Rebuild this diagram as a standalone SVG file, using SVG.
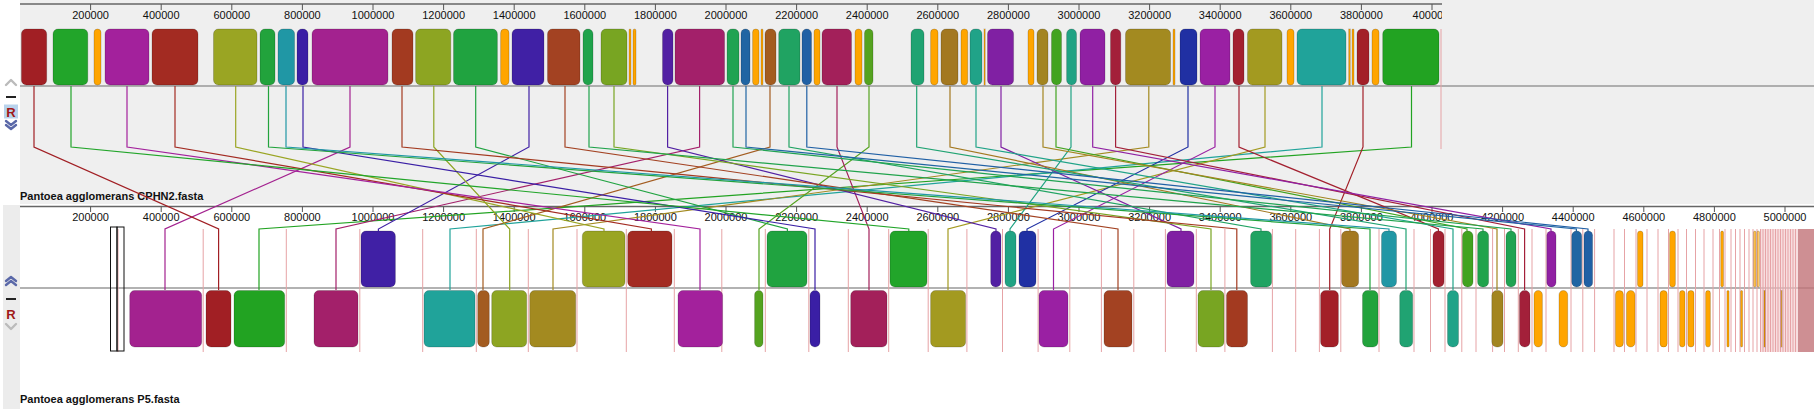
<svg xmlns="http://www.w3.org/2000/svg" width="1814" height="409" viewBox="0 0 1814 409">
<style>
.t{font-family:"Liberation Sans",Arial,sans-serif;font-size:11px;fill:#111;text-anchor:middle}
.lbl{font-family:"Liberation Sans",Arial,sans-serif;font-size:11px;font-weight:bold;fill:#111}
.rl{stroke:#666;stroke-width:1.6}
.tk{stroke:#555;stroke-width:1}
.cl{stroke:#999;stroke-width:1.5}
.b rect{stroke:#000;stroke-opacity:.18;stroke-width:1}
.o{fill:#ffa500}
.rd line{stroke:#e6a3a6;stroke-width:1}
.cn path{fill:none;stroke-width:1.2}
.chv{fill:none;stroke-width:2.4;stroke-linecap:round;stroke-linejoin:round}
.R{font-family:"Liberation Sans",Arial,sans-serif;font-size:13px;font-weight:bold;fill:#a01818;text-anchor:middle}
</style>
<defs>
<clipPath id="topclip"><rect x="0" y="0" width="1442" height="30"/></clipPath>
</defs>
<rect x="0" y="0" width="1814" height="409" fill="#ffffff"/>
<g id="top-panel">
<rect x="20" y="0" width="1794" height="204" fill="#efefef"/>
<line class="rl" x1="20" y1="4" x2="1442" y2="4"/>
<g clip-path="url(#topclip)">
<g class="tk">
<line x1="90.6" y1="4" x2="90.6" y2="10"/><line x1="161.2" y1="4" x2="161.2" y2="10"/><line x1="231.8" y1="4" x2="231.8" y2="10"/><line x1="302.4" y1="4" x2="302.4" y2="10"/><line x1="373" y1="4" x2="373" y2="10"/><line x1="443.6" y1="4" x2="443.6" y2="10"/><line x1="514.2" y1="4" x2="514.2" y2="10"/><line x1="584.8" y1="4" x2="584.8" y2="10"/><line x1="655.4" y1="4" x2="655.4" y2="10"/><line x1="726" y1="4" x2="726" y2="10"/><line x1="796.6" y1="4" x2="796.6" y2="10"/><line x1="867.2" y1="4" x2="867.2" y2="10"/><line x1="937.8" y1="4" x2="937.8" y2="10"/><line x1="1008.4" y1="4" x2="1008.4" y2="10"/><line x1="1079" y1="4" x2="1079" y2="10"/><line x1="1149.6" y1="4" x2="1149.6" y2="10"/><line x1="1220.2" y1="4" x2="1220.2" y2="10"/><line x1="1290.8" y1="4" x2="1290.8" y2="10"/><line x1="1361.4" y1="4" x2="1361.4" y2="10"/><line x1="1432" y1="4" x2="1432" y2="10"/>
</g>
<text class="t" x="90.6" y="18.5">200000</text><text class="t" x="161.2" y="18.5">400000</text><text class="t" x="231.8" y="18.5">600000</text><text class="t" x="302.4" y="18.5">800000</text><text class="t" x="373" y="18.5">1000000</text><text class="t" x="443.6" y="18.5">1200000</text><text class="t" x="514.2" y="18.5">1400000</text><text class="t" x="584.8" y="18.5">1600000</text><text class="t" x="655.4" y="18.5">1800000</text><text class="t" x="726" y="18.5">2000000</text><text class="t" x="796.6" y="18.5">2200000</text><text class="t" x="867.2" y="18.5">2400000</text><text class="t" x="937.8" y="18.5">2600000</text><text class="t" x="1008.4" y="18.5">2800000</text><text class="t" x="1079" y="18.5">3000000</text><text class="t" x="1149.6" y="18.5">3200000</text><text class="t" x="1220.2" y="18.5">3400000</text><text class="t" x="1290.8" y="18.5">3600000</text><text class="t" x="1361.4" y="18.5">3800000</text><text class="t" x="1434" y="18.5">4000000</text>
</g>
<line class="cl" x1="20" y1="86" x2="1814" y2="86"/>
<line x1="1441" y1="29" x2="1441" y2="149" stroke="#e6a3a6" stroke-width="1"/>
<text class="lbl" x="20" y="200">Pantoea agglomerans CPHN2.fasta</text>
</g>
<g id="top-controls">
<polyline class="chv" stroke="#bbbbbb" points="6,85 11,80 16,85"/>
<rect x="6" y="96" width="10" height="2" fill="#222"/>
<rect x="4" y="104.5" width="14" height="14" fill="#b9d3ec"/>
<text class="R" x="11" y="117">R</text>
<polyline class="chv" stroke="#5a68a8" stroke-width="1.8" points="6,121 11,125 16,121"/>
<polyline class="chv" stroke="#5a68a8" stroke-width="1.8" points="6,125 11,129 16,125"/>
</g>
<g id="top-blocks" class="b">
<rect x="21.4" y="29" width="25.3" height="56" rx="5" fill="#a11f24"/>
<rect x="53" y="29" width="34.8" height="56" rx="5" fill="#22a52a"/>
<rect x="94" y="29" width="7" height="56" rx="3.5" class="o"/>
<rect x="105" y="29" width="44" height="56" rx="5" fill="#a3219c"/>
<rect x="152" y="29" width="46" height="56" rx="5" fill="#a32b22"/>
<rect x="213.5" y="29" width="43.5" height="56" rx="5" fill="#9aa523"/>
<rect x="260" y="29" width="15" height="56" rx="5" fill="#22a33c"/>
<rect x="278" y="29" width="16.6" height="56" rx="5" fill="#2097a5"/>
<rect x="297" y="29" width="11" height="56" rx="5" fill="#3a1fa5"/>
<rect x="312" y="29" width="76" height="56" rx="5" fill="#a3228f"/>
<rect x="392" y="29" width="21" height="56" rx="5" fill="#a33a20"/>
<rect x="415.6" y="29" width="35.2" height="56" rx="5" fill="#8da522"/>
<rect x="453.5" y="29" width="43.9" height="56" rx="5" fill="#20a340"/>
<rect x="500.6" y="29" width="8.4" height="56" rx="4" class="o"/>
<rect x="512" y="29" width="32" height="56" rx="5" fill="#4020a5"/>
<rect x="547.5" y="29" width="32.5" height="56" rx="5" fill="#a34222"/>
<rect x="583" y="29" width="10" height="56" rx="5" fill="#20a34c"/>
<rect x="601" y="29" width="26" height="56" rx="5" fill="#78a522"/>
<rect x="629" y="29" width="2" height="56" rx="1" class="o"/>
<rect x="633" y="29" width="3" height="56" rx="1.5" class="o"/>
<rect x="662.5" y="29" width="10.5" height="56" rx="5" fill="#5220a3"/>
<rect x="675" y="29" width="49.6" height="56" rx="5" fill="#a3206a"/>
<rect x="727" y="29" width="12" height="56" rx="5" fill="#20a352"/>
<rect x="741" y="29" width="9" height="56" rx="4.5" fill="#2065a3"/>
<rect x="752.6" y="29" width="6.4" height="56" rx="3.2" class="o"/>
<rect x="761" y="29" width="2" height="56" rx="1" class="o"/>
<rect x="765" y="29" width="11" height="56" rx="5" fill="#a35c20"/>
<rect x="778.7" y="29" width="21.3" height="56" rx="5" fill="#20a362"/>
<rect x="802" y="29" width="9.5" height="56" rx="4.7" fill="#2060a5"/>
<rect x="814" y="29" width="6" height="56" rx="3" class="o"/>
<rect x="822" y="29" width="29.5" height="56" rx="5" fill="#a3205a"/>
<rect x="855" y="29" width="7" height="56" rx="3.5" class="o"/>
<rect x="864.5" y="29" width="8.5" height="56" rx="4.2" fill="#55a320"/>
<rect x="911" y="29" width="13" height="56" rx="5" fill="#20a372"/>
<rect x="930.6" y="29" width="7.4" height="56" rx="3.7" class="o"/>
<rect x="941" y="29" width="17" height="56" rx="5" fill="#a37820"/>
<rect x="961" y="29" width="6.7" height="56" rx="3.3" class="o"/>
<rect x="970" y="29" width="12" height="56" rx="5" fill="#20a388"/>
<rect x="984" y="29" width="1.2" height="56" class="o"/>
<rect x="987.5" y="29" width="26.1" height="56" rx="5" fill="#8020a3"/>
<rect x="1028" y="29" width="6" height="56" rx="3" class="o"/>
<rect x="1037" y="29" width="11" height="56" rx="5" fill="#a38520"/>
<rect x="1051.5" y="29" width="10" height="56" rx="5" fill="#42a320"/>
<rect x="1066.6" y="29" width="9.9" height="56" rx="4.9" fill="#20a384"/>
<rect x="1080" y="29" width="25" height="56" rx="5" fill="#9020a3"/>
<rect x="1110.5" y="29" width="10.3" height="56" rx="5" fill="#a3203a"/>
<rect x="1125.5" y="29" width="45.1" height="56" rx="5" fill="#a38a20"/>
<rect x="1173" y="29" width="2" height="56" rx="1" class="o"/>
<rect x="1180" y="29" width="17" height="56" rx="5" fill="#2030a3"/>
<rect x="1200" y="29" width="30" height="56" rx="5" fill="#9a20a3"/>
<rect x="1233" y="29" width="11" height="56" rx="5" fill="#a32030"/>
<rect x="1247.5" y="29" width="34.5" height="56" rx="5" fill="#a39a20"/>
<rect x="1287" y="29" width="7" height="56" rx="3.5" class="o"/>
<rect x="1297" y="29" width="49" height="56" rx="5" fill="#20a39a"/>
<rect x="1348.7" y="29" width="1.6" height="56" class="o"/>
<rect x="1352" y="29" width="2" height="56" rx="1" class="o"/>
<rect x="1357" y="29" width="12" height="56" rx="5" fill="#a32028"/>
<rect x="1372" y="29" width="7" height="56" rx="3.5" class="o"/>
<rect x="1382.7" y="29" width="56.3" height="56" rx="5" fill="#22a322"/>
</g>
<g id="bottom-panel">
<rect x="3" y="205" width="17" height="204" fill="#ececec"/>
<line class="rl" x1="20" y1="206.5" x2="1814" y2="206.5"/>
<g class="tk">
<line x1="90.6" y1="206.5" x2="90.6" y2="212"/><line x1="161.2" y1="206.5" x2="161.2" y2="212"/><line x1="231.8" y1="206.5" x2="231.8" y2="212"/><line x1="302.4" y1="206.5" x2="302.4" y2="212"/><line x1="373" y1="206.5" x2="373" y2="212"/><line x1="443.6" y1="206.5" x2="443.6" y2="212"/><line x1="514.2" y1="206.5" x2="514.2" y2="212"/><line x1="584.8" y1="206.5" x2="584.8" y2="212"/><line x1="655.4" y1="206.5" x2="655.4" y2="212"/><line x1="726" y1="206.5" x2="726" y2="212"/><line x1="796.6" y1="206.5" x2="796.6" y2="212"/><line x1="867.2" y1="206.5" x2="867.2" y2="212"/><line x1="937.8" y1="206.5" x2="937.8" y2="212"/><line x1="1008.4" y1="206.5" x2="1008.4" y2="212"/><line x1="1079" y1="206.5" x2="1079" y2="212"/><line x1="1149.6" y1="206.5" x2="1149.6" y2="212"/><line x1="1220.2" y1="206.5" x2="1220.2" y2="212"/><line x1="1290.8" y1="206.5" x2="1290.8" y2="212"/><line x1="1361.4" y1="206.5" x2="1361.4" y2="212"/><line x1="1432" y1="206.5" x2="1432" y2="212"/><line x1="1502.6" y1="206.5" x2="1502.6" y2="212"/><line x1="1573.2" y1="206.5" x2="1573.2" y2="212"/><line x1="1643.8" y1="206.5" x2="1643.8" y2="212"/><line x1="1714.4" y1="206.5" x2="1714.4" y2="212"/><line x1="1785" y1="206.5" x2="1785" y2="212"/>
</g>
<text class="t" x="90.6" y="220.5">200000</text><text class="t" x="161.2" y="220.5">400000</text><text class="t" x="231.8" y="220.5">600000</text><text class="t" x="302.4" y="220.5">800000</text><text class="t" x="373" y="220.5">1000000</text><text class="t" x="443.6" y="220.5">1200000</text><text class="t" x="514.2" y="220.5">1400000</text><text class="t" x="584.8" y="220.5">1600000</text><text class="t" x="655.4" y="220.5">1800000</text><text class="t" x="726" y="220.5">2000000</text><text class="t" x="796.6" y="220.5">2200000</text><text class="t" x="867.2" y="220.5">2400000</text><text class="t" x="937.8" y="220.5">2600000</text><text class="t" x="1008.4" y="220.5">2800000</text><text class="t" x="1079" y="220.5">3000000</text><text class="t" x="1149.6" y="220.5">3200000</text><text class="t" x="1220.2" y="220.5">3400000</text><text class="t" x="1290.8" y="220.5">3600000</text><text class="t" x="1361.4" y="220.5">3800000</text><text class="t" x="1432" y="220.5">4000000</text><text class="t" x="1502.6" y="220.5">4200000</text><text class="t" x="1573.2" y="220.5">4400000</text><text class="t" x="1643.8" y="220.5">4600000</text><text class="t" x="1714.4" y="220.5">4800000</text><text class="t" x="1785" y="220.5">5000000</text>
<line class="cl" x1="20" y1="288" x2="1814" y2="288"/>
<text class="lbl" x="20" y="403">Pantoea agglomerans  P5.fasta</text>
</g>
<g id="bottom-controls">
<polyline class="chv" stroke="#5a68a8" stroke-width="1.8" points="6,281 11,277 16,281"/>
<polyline class="chv" stroke="#5a68a8" stroke-width="1.8" points="6,285 11,281 16,285"/>
<rect x="6" y="298" width="10" height="2" fill="#222"/>
<text class="R" x="11" y="319">R</text>
<polyline class="chv" stroke="#bbbbbb" points="6,324 11,329 16,324"/>
</g>
<g id="bottom-boundaries" class="rd">
<rect x="1760" y="229" width="38" height="123" fill="#f2c8ca" fill-opacity=".6"/>
<line x1="118" y1="229" x2="118" y2="352"/><line x1="203.2" y1="229" x2="203.2" y2="352"/><line x1="286.3" y1="229" x2="286.3" y2="352"/><line x1="359.8" y1="229" x2="359.8" y2="352"/><line x1="422.7" y1="229" x2="422.7" y2="352"/><line x1="476.3" y1="229" x2="476.3" y2="352"/><line x1="528.3" y1="229" x2="528.3" y2="352"/><line x1="577" y1="229" x2="577" y2="352"/><line x1="626.3" y1="229" x2="626.3" y2="352"/><line x1="674.3" y1="229" x2="674.3" y2="352"/><line x1="721.8" y1="229" x2="721.8" y2="352"/><line x1="765.3" y1="229" x2="765.3" y2="352"/><line x1="808.8" y1="229" x2="808.8" y2="352"/><line x1="848.3" y1="229" x2="848.3" y2="352"/><line x1="888.7" y1="229" x2="888.7" y2="352"/><line x1="928.2" y1="229" x2="928.2" y2="352"/><line x1="966.9" y1="229" x2="966.9" y2="352"/><line x1="1002.5" y1="229" x2="1002.5" y2="352"/><line x1="1038.1" y1="229" x2="1038.1" y2="352"/><line x1="1069.8" y1="229" x2="1069.8" y2="352"/><line x1="1101.4" y1="229" x2="1101.4" y2="352"/><line x1="1133.8" y1="229" x2="1133.8" y2="352"/><line x1="1165.4" y1="229" x2="1165.4" y2="352"/><line x1="1196.3" y1="229" x2="1196.3" y2="352"/><line x1="1224.9" y1="229" x2="1224.9" y2="352"/><line x1="1272.4" y1="229" x2="1272.4" y2="352"/><line x1="1295.7" y1="229" x2="1295.7" y2="352"/><line x1="1319.4" y1="229" x2="1319.4" y2="352"/><line x1="1340.8" y1="229" x2="1340.8" y2="352"/><line x1="1379" y1="229" x2="1379" y2="352"/><line x1="1414" y1="229" x2="1414" y2="352"/><line x1="1430.5" y1="229" x2="1430.5" y2="352"/><line x1="1445" y1="229" x2="1445" y2="352"/><line x1="1461.8" y1="229" x2="1461.8" y2="352"/><line x1="1476" y1="229" x2="1476" y2="352"/><line x1="1492.6" y1="229" x2="1492.6" y2="352"/><line x1="1504.5" y1="229" x2="1504.5" y2="352"/><line x1="1518.3" y1="229" x2="1518.3" y2="352"/><line x1="1532" y1="229" x2="1532" y2="352"/><line x1="1546" y1="229" x2="1546" y2="352"/><line x1="1571" y1="229" x2="1571" y2="352"/><line x1="1582.8" y1="229" x2="1582.8" y2="352"/><line x1="1594.6" y1="229" x2="1594.6" y2="352"/><line x1="1614" y1="229" x2="1614" y2="352"/><line x1="1624.5" y1="229" x2="1624.5" y2="352"/><line x1="1636" y1="229" x2="1636" y2="352"/><line x1="1647" y1="229" x2="1647" y2="352"/><line x1="1658" y1="229" x2="1658" y2="352"/><line x1="1668.5" y1="229" x2="1668.5" y2="352"/><line x1="1678" y1="229" x2="1678" y2="352"/><line x1="1686.5" y1="229" x2="1686.5" y2="352"/><line x1="1695.5" y1="229" x2="1695.5" y2="352"/><line x1="1704" y1="229" x2="1704" y2="352"/><line x1="1713" y1="229" x2="1713" y2="352"/><line x1="1719.5" y1="229" x2="1719.5" y2="352"/><line x1="1725" y1="229" x2="1725" y2="352"/><line x1="1731" y1="229" x2="1731" y2="352"/><line x1="1735.5" y1="229" x2="1735.5" y2="352"/><line x1="1740" y1="229" x2="1740" y2="352"/><line x1="1744.5" y1="229" x2="1744.5" y2="352"/><line x1="1749" y1="229" x2="1749" y2="352"/><line x1="1753" y1="229" x2="1753" y2="352"/><line x1="1757" y1="229" x2="1757" y2="352"/><line x1="1760.5" y1="229" x2="1760.5" y2="352"/><line x1="1763" y1="229" x2="1763" y2="352"/><line x1="1765.5" y1="229" x2="1765.5" y2="352"/><line x1="1768" y1="229" x2="1768" y2="352"/><line x1="1770.5" y1="229" x2="1770.5" y2="352"/><line x1="1773" y1="229" x2="1773" y2="352"/><line x1="1775.5" y1="229" x2="1775.5" y2="352"/><line x1="1778" y1="229" x2="1778" y2="352"/><line x1="1780.5" y1="229" x2="1780.5" y2="352"/><line x1="1783" y1="229" x2="1783" y2="352"/><line x1="1785.5" y1="229" x2="1785.5" y2="352"/><line x1="1788" y1="229" x2="1788" y2="352"/><line x1="1790.5" y1="229" x2="1790.5" y2="352"/><line x1="1793" y1="229" x2="1793" y2="352"/><line x1="1795.5" y1="229" x2="1795.5" y2="352"/>
<rect x="1798" y="229" width="16" height="123" fill="#c27378" fill-opacity=".8"/>
</g>
<g id="selection-box" fill="none" stroke="#111" stroke-width="1">
<rect x="110.5" y="227" width="6.5" height="124"/>
<rect x="117" y="227" width="7" height="124"/>
</g>
<g id="bottom-blocks" class="b">
<rect x="129.7" y="290.5" width="72" height="56.5" rx="5" fill="#a3228f"/>
<rect x="206" y="290.5" width="25" height="56.5" rx="5" fill="#a11f24"/>
<rect x="234" y="290.5" width="50.7" height="56.5" rx="5" fill="#22a322"/>
<rect x="314" y="290.5" width="44" height="56.5" rx="5" fill="#a3206a"/>
<rect x="361" y="231" width="34.4" height="56" rx="5" fill="#4020a5"/>
<rect x="424" y="290.5" width="51" height="56.5" rx="5" fill="#20a39a"/>
<rect x="477.7" y="290.5" width="11.6" height="56.5" rx="5" fill="#a35c20"/>
<rect x="491.7" y="290.5" width="35" height="56.5" rx="5" fill="#8da522"/>
<rect x="529.7" y="290.5" width="46" height="56.5" rx="5" fill="#a38a20"/>
<rect x="582.3" y="231" width="42.7" height="56" rx="5" fill="#9aa523"/>
<rect x="627.7" y="231" width="44.3" height="56" rx="5" fill="#a32b22"/>
<rect x="678" y="290.5" width="44.6" height="56.5" rx="5" fill="#a3219c"/>
<rect x="754.6" y="290.5" width="8.4" height="56.5" rx="4.2" fill="#55a320"/>
<rect x="767" y="231" width="40" height="56" rx="5" fill="#20a340"/>
<rect x="810" y="290.5" width="10" height="56.5" rx="5" fill="#3a1fa5"/>
<rect x="850.7" y="290.5" width="36.3" height="56.5" rx="5" fill="#a3205a"/>
<rect x="890" y="231" width="37" height="56" rx="5" fill="#22a52a"/>
<rect x="930.6" y="290.5" width="35" height="56.5" rx="5" fill="#a39a20"/>
<rect x="990.7" y="231" width="10.3" height="56" rx="5" fill="#5220a3"/>
<rect x="1005" y="231" width="11" height="56" rx="5" fill="#20a384"/>
<rect x="1019" y="231" width="17" height="56" rx="5" fill="#2030a3"/>
<rect x="1039" y="290.5" width="29" height="56.5" rx="5" fill="#9a20a3"/>
<rect x="1104" y="290.5" width="28" height="56.5" rx="5" fill="#a34222"/>
<rect x="1167" y="231" width="27" height="56" rx="5" fill="#8020a3"/>
<rect x="1198" y="290.5" width="26" height="56.5" rx="5" fill="#78a522"/>
<rect x="1226.5" y="290.5" width="21" height="56.5" rx="5" fill="#a33a20"/>
<rect x="1250.6" y="231" width="21" height="56" rx="5" fill="#20a362"/>
<rect x="1320.6" y="290.5" width="17.8" height="56.5" rx="5" fill="#a32028"/>
<rect x="1341.6" y="231" width="17" height="56" rx="5" fill="#a37820"/>
<rect x="1362.5" y="290.5" width="15.5" height="56.5" rx="5" fill="#22a33c"/>
<rect x="1381.5" y="231" width="15" height="56" rx="5" fill="#2097a5"/>
<rect x="1399.7" y="290.5" width="13" height="56.5" rx="5" fill="#20a372"/>
<rect x="1433" y="231" width="11" height="56" rx="5" fill="#a32030"/>
<rect x="1447.5" y="290.5" width="11" height="56.5" rx="5" fill="#20a388"/>
<rect x="1462.5" y="231" width="10.5" height="56" rx="5" fill="#42a320"/>
<rect x="1477.6" y="231" width="11" height="56" rx="5" fill="#20a34c"/>
<rect x="1491.8" y="290.5" width="11.2" height="56.5" rx="5" fill="#a38520"/>
<rect x="1506" y="231" width="10" height="56" rx="5" fill="#20a352"/>
<rect x="1519.5" y="290.5" width="10.5" height="56.5" rx="5" fill="#a3203a"/>
<rect x="1534" y="290.5" width="8.4" height="56.5" rx="4.2" class="o"/>
<rect x="1546.8" y="231" width="9.2" height="56" rx="4.6" fill="#9020a3"/>
<rect x="1559" y="290.5" width="8.7" height="56.5" rx="4.3" class="o"/>
<rect x="1571.7" y="231" width="10" height="56" rx="5" fill="#2065a3"/>
<rect x="1584" y="231" width="8.6" height="56" rx="4.3" fill="#2060a5"/>
<rect x="1615.4" y="290.5" width="8" height="56.5" rx="4" class="o"/>
<rect x="1626.4" y="290.5" width="8.6" height="56.5" rx="4.3" class="o"/>
<rect x="1637.5" y="231" width="5.5" height="56" rx="2.7" class="o"/>
<rect x="1660" y="290.5" width="7.2" height="56.5" rx="3.6" class="o"/>
<rect x="1669.6" y="231" width="5.8" height="56" rx="2.9" class="o"/>
<rect x="1679.6" y="290.5" width="5.4" height="56.5" rx="2.7" class="o"/>
<rect x="1687.8" y="290.5" width="6.2" height="56.5" rx="3" class="o"/>
<rect x="1705.6" y="290.5" width="4.8" height="56.5" rx="2.4" class="o"/>
<rect x="1720.7" y="231" width="2.8" height="56" rx="1.4" class="o"/>
<rect x="1726.9" y="290.5" width="2.2" height="56.5" rx="1.1" class="o"/>
<rect x="1740.6" y="290.5" width="2" height="56.5" rx="1" class="o"/>
<rect x="1753.6" y="231" width="2.4" height="56" rx="1.2" class="o" fill-opacity=".7"/>
<rect x="1757" y="231" width="2.5" height="56" rx="1.2" class="o" fill-opacity=".6"/>
<rect x="1764" y="290.5" width="1" height="56.5" class="o"/>
<rect x="1781" y="290.5" width="1" height="56.5" class="o" fill-opacity=".7"/>
</g>
<g id="connectors" class="cn">
<path stroke="#a3228f" d="M350 86V147L165 229V290"/>
<path stroke="#a11f24" d="M34 86V147L218.6 229V290"/>
<path stroke="#22a322" d="M1411.5 86V147L259 229V290"/>
<path stroke="#a3206a" d="M699.6 86V147L336 229V290"/>
<path stroke="#4020a5" d="M529 86V147L378.4 229V231"/>
<path stroke="#20a39a" d="M1322 86V147L450 229V290"/>
<path stroke="#a35c20" d="M770 86V147L483 229V290"/>
<path stroke="#8da522" d="M433.8 86V147L509.7 229V290"/>
<path stroke="#a38a20" d="M1148.8 86V147L553 229V290"/>
<path stroke="#9aa523" d="M235.7 86V147L604 229V231"/>
<path stroke="#a32b22" d="M175 86V147L651.4 229V231"/>
<path stroke="#a3219c" d="M127 86V147L700 229V290"/>
<path stroke="#55a320" d="M869 86V147L759 229V290"/>
<path stroke="#20a340" d="M475.7 86V147L787.4 229V231"/>
<path stroke="#3a1fa5" d="M303 86V147L815 229V290"/>
<path stroke="#a3205a" d="M837 86V147L869 229V290"/>
<path stroke="#22a52a" d="M71 86V147L908.8 229V231"/>
<path stroke="#a39a20" d="M1265 86V147L948 229V290"/>
<path stroke="#5220a3" d="M667.6 86V147L996 229V231"/>
<path stroke="#20a384" d="M1071 86V147L1010 229V231"/>
<path stroke="#2030a3" d="M1188 86V147L1027 229V231"/>
<path stroke="#9a20a3" d="M1215 86V147L1053.5 229V290"/>
<path stroke="#a34222" d="M565 86V147L1118 229V290"/>
<path stroke="#8020a3" d="M1001 86V147L1181 229V231"/>
<path stroke="#78a522" d="M614 86V147L1211 229V290"/>
<path stroke="#a33a20" d="M402 86V147L1236.8 229V290"/>
<path stroke="#20a362" d="M789 86V147L1261 229V231"/>
<path stroke="#a32028" d="M1363 86V147L1329.7 229V290"/>
<path stroke="#a37820" d="M950 86V147L1350 229V231"/>
<path stroke="#22a33c" d="M268.5 86V147L1370 229V290"/>
<path stroke="#2097a5" d="M286 86V147L1389 229V231"/>
<path stroke="#20a372" d="M916.7 86V147L1406 229V290"/>
<path stroke="#a32030" d="M1239 86V147L1438.4 229V231"/>
<path stroke="#20a388" d="M976 86V147L1453 229V290"/>
<path stroke="#42a320" d="M1056 86V147L1467 229V231"/>
<path stroke="#20a34c" d="M589 86V147L1483 229V231"/>
<path stroke="#a38520" d="M1043 86V147L1497 229V290"/>
<path stroke="#20a352" d="M733 86V147L1511 229V231"/>
<path stroke="#a3203a" d="M1115.6 86V147L1524.6 229V290"/>
<path stroke="#9020a3" d="M1092.7 86V147L1551 229V231"/>
<path stroke="#2065a3" d="M746 86V147L1576.4 229V231"/>
<path stroke="#2060a5" d="M806.8 86V147L1588 229V231"/>
</g>
</svg>
